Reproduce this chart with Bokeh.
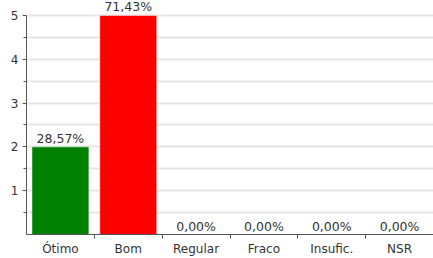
from bokeh.plotting import figure
from bokeh.models import ColumnDataSource, FixedTicker, Range1d, LabelSet
from bokeh.core.properties import value
from bokeh.embed import file_html
from bokeh.resources import INLINE

categories = ["Ótimo", "Bom", "Regular", "Fraco", "Insufic.", "NSR"]
counts = [2, 5, 0, 0, 0, 0]
percent_labels = ["28,57%", "71,43%", "0,00%", "0,00%", "0,00%", "0,00%"]
bar_colors = ["#008000", "#ff0000", "#008000", "#008000", "#008000", "#008000"]
y_ticks = [1, 2, 3, 4, 5]

n = len(categories)
centers = [i + 0.5 for i in range(n)]
y_max = max(y_ticks)

src = ColumnDataSource(dict(x=centers, top=counts, label=percent_labels, color=bar_colors))

p = figure(width=433, height=258, output_backend="svg", toolbar_location=None,
           x_range=Range1d(0, n), y_range=Range1d(0, y_max + 0.34),
           min_border_left=26, min_border_right=0, min_border_top=0, min_border_bottom=23)
p.outline_line_color = None
p.background_fill_color = "white"
p.border_fill_color = "white"

p.vbar(x="x", top="top", width=0.84, bottom=0, source=src, fill_color="color",
       line_color="white", line_alpha=0.5, line_width=1)

labels = LabelSet(x="x", y="top", text="label", source=src, text_align="center",
                  text_baseline="alphabetic", y_offset=4, text_font=value("DejaVu Sans"),
                  text_font_size=value("12.5px"), text_color="#333333")
p.add_layout(labels)

# x axis: labels centered, ticks at category boundaries
p.xaxis.ticker = FixedTicker(ticks=centers, minor_ticks=list(range(1, n)))
p.xaxis.major_label_overrides = {c: cat for c, cat in zip(centers, categories)}
p.xaxis.major_tick_line_color = None
p.xaxis.major_tick_out = 0
p.xaxis.major_tick_in = 0
p.xaxis.minor_tick_out = 4
p.xaxis.minor_tick_in = 0
p.xaxis.minor_tick_line_color = "#555555"
p.xaxis.axis_line_color = "#555555"
p.xaxis.major_label_text_font = "DejaVu Sans"
p.xaxis.major_label_text_font_size = "12px"
p.xaxis.major_label_text_color = "#333333"
p.xaxis.major_label_standoff = 3
p.xgrid.grid_line_color = None

p.yaxis.ticker = FixedTicker(ticks=y_ticks, minor_ticks=[t - 0.5 for t in y_ticks])
p.yaxis.bounds = (0, y_max)
p.yaxis.major_tick_out = 4
p.yaxis.major_tick_in = 0
p.yaxis.minor_tick_out = 3
p.yaxis.minor_tick_in = 0
p.yaxis.major_tick_line_color = "#555555"
p.yaxis.minor_tick_line_color = "#555555"
p.yaxis.axis_line_color = "#555555"
p.yaxis.major_label_text_font = "DejaVu Sans"
p.yaxis.major_label_text_font_size = "12px"
p.yaxis.major_label_text_color = "#333333"
p.yaxis.major_label_standoff = 4
p.ygrid.ticker = FixedTicker(ticks=y_ticks, minor_ticks=[t - 0.5 for t in y_ticks])
p.ygrid.grid_line_color = "#e6e6e6"
p.ygrid.grid_line_width = 2
p.ygrid.minor_grid_line_color = "#e6e6e6"
p.ygrid.minor_grid_line_width = 2

open("out.html", "w").write(file_html(p, INLINE))
